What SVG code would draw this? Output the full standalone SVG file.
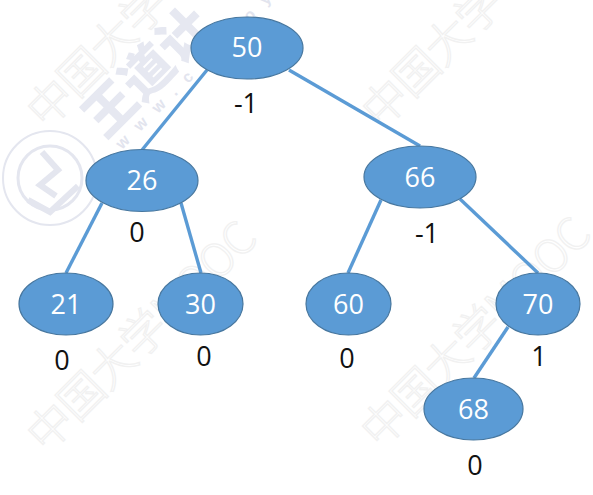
<svg xmlns="http://www.w3.org/2000/svg" width="593" height="495" viewBox="0 0 593 495">
<style>
.bg{fill:#fff}
.wm{font-family:"Noto Sans CJK SC","Noto Sans",sans-serif;font-size:45px;font-weight:300;fill:none;stroke:#f1f1f1;stroke-width:1.3;letter-spacing:-1px}
.wd{font-family:"Noto Sans CJK SC","Noto Sans",sans-serif;font-size:52px;font-weight:900;fill:#e6e8f1}
.ws{font-family:"Liberation Sans",sans-serif;font-size:16px;font-weight:700;fill:#e2e4ee;letter-spacing:13px}
.seal{fill:none;stroke:#e4e6ef}
.edge{stroke:#5b9bd5;stroke-width:3.4;fill:none}
.node{fill:#5b9bd5;stroke:#47779f;stroke-width:1.2}
.nt{font-family:"Open Sans","Noto Sans",sans-serif;font-size:27px;fill:#fff;text-anchor:middle}
.bf{font-family:"Open Sans","Noto Sans",sans-serif;font-size:27px;fill:#111;text-anchor:middle}
</style>
<rect class="bg" width="593" height="495"/>
<g id="watermark">
<text class="wm" transform="translate(46,130) rotate(-45)">中国大学</text>
<text class="wm" transform="translate(381,130) rotate(-45)">中国大学</text>
<text class="wm" transform="translate(46,454) rotate(-45)">中国大学MOOC</text>
<text class="wm" transform="translate(380,450) rotate(-45)">中国大学MOOC</text>
<text class="wd" transform="translate(105,140) rotate(-45)">王道计</text>
<text class="ws" transform="translate(122,150) rotate(-45)">www.cskaoy</text>
<circle class="seal" cx="50" cy="178" r="47" stroke-width="2"/>
<circle class="seal" cx="50" cy="178" r="32" stroke-width="3"/>
<path class="seal" stroke-width="6" d="M42 152 L58 170 L40 185 L56 196 M28 200 L50 212 L78 186"/>
</g>
<g id="connectors">
<line class="edge" x1="207" y1="70" x2="142" y2="150"/>
<line class="edge" x1="289" y1="70" x2="420" y2="146"/>
<line class="edge" x1="102" y1="203" x2="66" y2="273"/>
<line class="edge" x1="181" y1="203" x2="201" y2="273"/>
<line class="edge" x1="381" y1="200" x2="348" y2="273"/>
<line class="edge" x1="460" y1="199" x2="538" y2="273"/>
<line class="edge" x1="508" y1="327" x2="474" y2="378"/>
</g>
<g id="n50"><ellipse class="node" cx="247" cy="48" rx="56" ry="31"/><text class="nt" x="247" y="57">50</text></g>
<g id="n26"><ellipse class="node" cx="142" cy="180.5" rx="56" ry="31"/><text class="nt" x="142" y="190">26</text></g>
<g id="n66"><ellipse class="node" cx="420" cy="177" rx="56" ry="31"/><text class="nt" x="420" y="187">66</text></g>
<g id="n21"><ellipse class="node" cx="66" cy="304" rx="47" ry="31"/><text class="nt" x="66" y="314">21</text></g>
<g id="n30"><ellipse class="node" cx="200.500" cy="304" rx="42.500" ry="31"/><text class="nt" x="200.500" y="314">30</text></g>
<g id="n60"><ellipse class="node" cx="348.500" cy="304" rx="42.500" ry="31"/><text class="nt" x="348.500" y="314">60</text></g>
<g id="n70"><ellipse class="node" cx="538" cy="304" rx="42" ry="31"/><text class="nt" x="538" y="314">70</text></g>
<g id="n68"><ellipse class="node" cx="473.500" cy="409" rx="49.500" ry="31"/><text class="nt" x="473.500" y="419">68</text></g>
<g id="factors">
<text class="bf" x="246" y="113">-1</text>
<text class="bf" x="137" y="242">0</text>
<text class="bf" x="427" y="243">-1</text>
<text class="bf" x="62" y="370">0</text>
<text class="bf" x="204" y="366">0</text>
<text class="bf" x="347" y="368">0</text>
<text class="bf" x="539" y="366">1</text>
<text class="bf" x="475" y="475">0</text>
</g>
</svg>
